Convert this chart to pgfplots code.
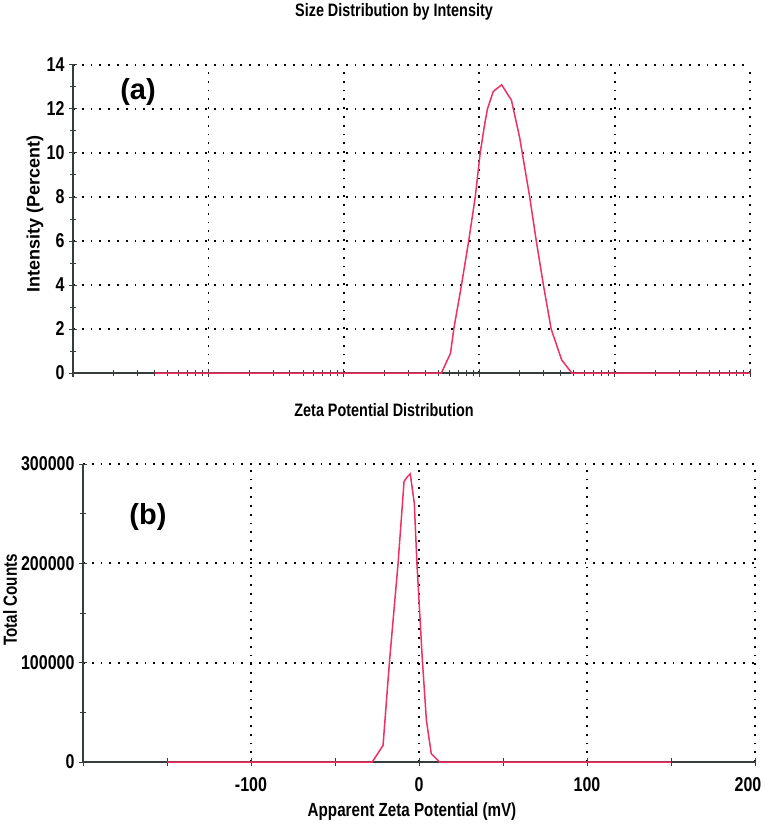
\documentclass[border=0pt]{standalone}
\usepackage{pgfplots}
\pgfplotsset{compat=1.18}
\usepackage{fontspec}
\setmainfont{Liberation Sans}[FakeStretch=0.8]
\newfontfamily\widefont{Liberation Sans}
\definecolor{curve}{RGB}{238,48,98}
\definecolor{axisgray}{RGB}{55,60,60}
\pgfplotsset{
  mystyle/.style={
    scale only axis,
    axis lines=left,
    axis line style={-, line width=1.3pt, axisgray},
    tick align=center,
    major tick length=8pt,
    minor tick length=6pt,
    tick style={line width=1pt, axisgray},
    grid=major,
    major grid style={line width=1.8pt, black, dash pattern=on 1.8pt off 7pt},
    tick label style={font=\bfseries\fontsize{20}{22}\selectfont},
    /pgf/number format/assume math mode=true,
    clip=false,
  }
}
\begin{document}
\begin{tikzpicture}[x=1pt,y=1pt]
\useasboundingbox (0,0) rectangle (764,-829);

\begin{axis}[mystyle,
  at={(73pt,-373pt)}, anchor=south west,
  width=677pt, height=308pt,
  xmode=log, xmin=0.1, xmax=10000,
  ymin=0, ymax=14,
  ytick={0,2,...,14}, minor y tick num=1,
  xtick={0.1,1,10,100,1000,10000},
  xticklabels={},
  yticklabel style={xshift=-1pt},
]
\addplot[curve, line width=1.5pt, no marks] coordinates {
(0.4,0) (52.6,0) (61.4,0.9) (64.9,2) (74,4) (83.6,6) (93.5,8) (101.7,10)
(109,11.2) (115,12) (127,12.8) (146.5,13.1) (173,12.4) (199,10.7) (208,10)
(236,8) (264,6) (298,4) (340,2) (406,0.6) (483,0) (10000,0)
};
\end{axis}

\begin{axis}[mystyle,
  at={(83pt,-762pt)}, anchor=south west,
  width=672pt, height=298pt,
  xmin=-200, xmax=200,
  ymin=0, ymax=300000,
  xtick={-100,0,100,200},
  xticklabels={-100,0,100,{\hspace*{-14pt}200}},
  extra x ticks={-200,-150,-50,50,150},
  extra x tick labels={},
  extra x tick style={grid=none},
  ytick={0,100000,200000,300000}, minor y tick num=1,
  scaled y ticks=false,
  yticklabel style={/pgf/number format/fixed, /pgf/number format/1000 sep={}, xshift=-1pt},
  xticklabel style={yshift=-8pt},
]
\addplot[curve, line width=1.5pt, no marks] coordinates {
(-150,0) (-27.8,0) (-21.4,16800) (-17.5,102600) (-12.5,199000) (-8.9,282500)
(-7,287000) (-5.2,290000) (-2.8,260600) (-1.2,199000) (2.0,102600) (4.4,42000)
(7.3,8400) (12.3,0) (150,0)
};
\end{axis}

\node[font=\bfseries\fontsize{18}{20}\selectfont] at (394,-12) {Size Distribution by Intensity};
\node[font=\bfseries\fontsize{18}{20}\selectfont] at (384,-410) {Zeta Potential Distribution};
\node[font=\widefont\bfseries\fontsize{18}{20}\selectfont, rotate=90] at (35,-214) {Intensity (Percent)};
\node[font=\bfseries\fontsize{19}{21}\selectfont, rotate=90] at (10,-600) {Total Counts};
\node[font=\bfseries\fontsize{19}{21}\selectfont] at (412,-812) {Apparent Zeta Potential (mV)};
\node[font=\widefont\bfseries\fontsize{29}{31}\selectfont] at (138,-92) {(a)};
\node[font=\widefont\bfseries\fontsize{29}{31}\selectfont] at (148,-517) {(b)};
\end{tikzpicture}
\end{document}
